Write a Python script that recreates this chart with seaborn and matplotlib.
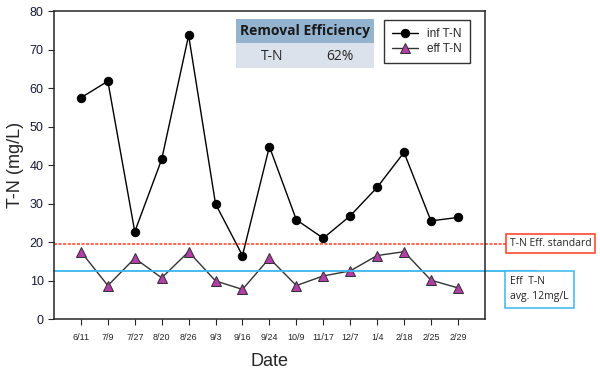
import pandas as pd
import numpy as np
import matplotlib
matplotlib.use('Agg')
import matplotlib.pyplot as plt
import seaborn as sns
from matplotlib.patches import Rectangle

# 数据
dates = ['6/11', '7/9', '7/27', '8/20', '8/26', '9/3', '9/16', '9/24',
         '10/9', '11/17', '12/7', '1/4', '2/18', '2/25', '2/29']
inf_tn = [57.5, 61.8, 22.7, 41.5, 73.7, 29.9, 16.5, 44.8,
          25.8, 21.0, 26.8, 34.2, 43.3, 25.5, 26.4]
eff_tn = [17.5, 8.7, 15.8, 10.7, 17.5, 9.9, 7.7, 15.8,
          8.7, 11.2, 12.5, 16.5, 17.5, 10.1, 8.1]
eff_standard = 19.4
eff_avg = 12.5
removal = '62%'

df = pd.DataFrame({'idx': range(len(dates)), 'inf': inf_tn, 'eff': eff_tn})

sns.set_style('ticks')
plt.rcParams['font.family'] = ['Liberation Sans', 'DejaVu Sans']

fig = plt.figure(figsize=(6, 3.71), dpi=100)
ax = fig.add_axes([0.09, 0.14, 0.718, 0.83])

sns.lineplot(data=df, x='idx', y='inf', ax=ax, color='black', lw=1,
             marker='o', markersize=6, markeredgecolor='black', label='inf T-N')
sns.lineplot(data=df, x='idx', y='eff', ax=ax, color='#333333', lw=1,
             marker='^', markersize=6.5, markerfacecolor='#b43ea8',
             markeredgecolor='#333333', label='eff T-N')

# 기준선
ax.plot([-1, 16.85], [eff_standard] * 2, ls=(0, (2, 1)), color='#ff3b1f', lw=1.1, clip_on=False)
ax.plot([-1, 16.9], [eff_avg] * 2, color='#3ab6ef', lw=1.3, clip_on=False)

ax.set_xlim(-1, 15)
ax.set_ylim(0, 80)
ax.set_xticks(range(len(dates)))
ax.set_xticklabels(dates, fontsize=6.5)
ax.set_yticks(range(0, 81, 10))
ax.tick_params(axis='y', labelsize=9, labelcolor='#1a1a3a', direction='out', length=4)
ax.tick_params(axis='x', direction='out', length=4, pad=6)
for s in ax.spines.values():
    s.set_linewidth(1.1)
ax.set_xlabel('Date', fontsize=13, labelpad=8)
ax.set_ylabel('T-N (mg/L)', fontsize=13)

leg = ax.legend(loc='upper right', bbox_to_anchor=(0.98, 0.99), fontsize=8.5,
                frameon=True, fancybox=False, edgecolor='black', handlelength=2.2,
                labelspacing=0.2, borderpad=0.7)
leg.get_frame().set_linewidth(1)

# removal efficiency table
tx, tw = 236 / 600, 138 / 600
fig.patches.append(Rectangle((tx, 1 - 43 / 371), tw, 24 / 371, transform=fig.transFigure,
                             facecolor='#93b3cf', edgecolor='none'))
fig.patches.append(Rectangle((tx, 1 - 68 / 371), tw, 25 / 371, transform=fig.transFigure,
                             facecolor='#dce2ec', edgecolor='none'))
fig.text(tx + tw / 2, 1 - 31 / 371, 'Removal Efficiency', ha='center', va='center',
         fontsize=10, fontweight='bold', color='#1a1a1a', family='Open Sans')
fig.text(272 / 600, 1 - 56 / 371, 'T-N', ha='center', va='center', fontsize=10, family='Open Sans')
fig.text(340 / 600, 1 - 56 / 371, removal, ha='center', va='center', fontsize=10, family='Open Sans')

# 右侧标注框
fig.text(510 / 600, 1 - 243.5 / 371, 'T-N Eff. standard', ha='left', va='center', fontsize=7.5,
         family='Open Sans', bbox=dict(boxstyle='square,pad=0.35', fc='white', ec='#ff3b1f', lw=1.1))
fig.text(510 / 600, 1 - 289.5 / 371, 'Eff  T-N\navg. 12mg/L', ha='left', va='center', fontsize=7.5,
         family='Open Sans', linespacing=1.5,
         bbox=dict(boxstyle='square,pad=0.5', fc='white', ec='#3ab6ef', lw=1.1))

fig.savefig('out.png', dpi=100)
